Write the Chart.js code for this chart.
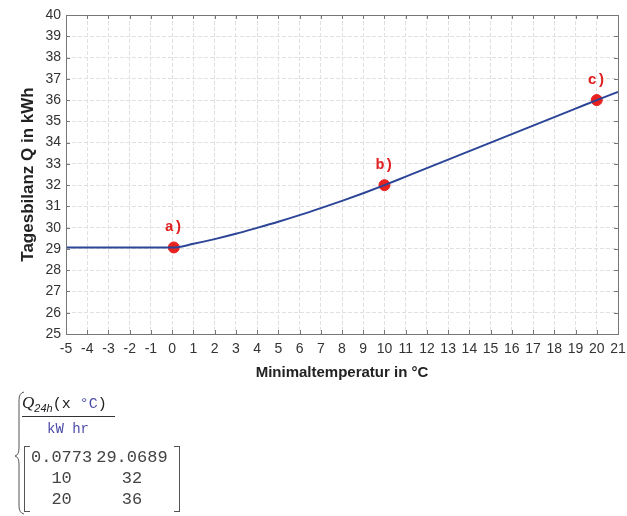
<!DOCTYPE html>
<html>
<head>
<meta charset="utf-8">
<script src="https://cdn.jsdelivr.net/npm/chart.js@4.4.1/dist/chart.umd.min.js"></script>
<style>
    body { margin: 0; background: #fff; }
    #wrap { position: relative; width: 627px; height: 516px; overflow: hidden; }
    #box { position: absolute; left: 0; top: 0; width: 627px; height: 384px; }
    .mono { font-family: 'Liberation Mono', 'Courier New', monospace; }
    #num { position: absolute; left: 22px; top: 393px; color: #222; white-space: nowrap; }
    #num .q { font-family: 'Liberation Serif', serif; font-style: italic; font-size: 17px; }
    #num sub { font-family: 'Liberation Sans', sans-serif; font-style: italic; font-size: 11px; }
    #num .u { color: #4a4aa8; }
    #bar { position: absolute; left: 22px; top: 416px; width: 93px; border-top: 1px solid #333; }
    #den { position: absolute; left: 47px; top: 421px; font-size: 14px; color: #4a4aa8; }
    #mat { position: absolute; left: 24px; top: 446px; width: 154px; height: 66px;
           border-left: 1px solid #555; border-right: 1px solid #555; }
    #mat:before, #mat:after { content: ''; position: absolute; top: 0; bottom: 0; width: 5px;
           border-top: 1px solid #555; border-bottom: 1px solid #555; }
    #mat:before { left: 0; }
    #mat:after { right: 0; }
    #mat table { position: absolute; left: 4px; top: 1px; border-collapse: collapse; font-size: 17px; color: #444; }
    #mat td { text-align: center; padding: 0 2px; height: 21px; line-height: 21px; }
</style>
</head>
<body>
<div id="wrap">
    <div id="box"><canvas id="graph"></canvas></div>
    <svg style="position:absolute;left:0;top:0" width="40" height="516">
        <path d="M24 392 Q19 393 19 400 L19 448 Q19 455 15 456 Q19 457 19 464 L19 506 Q19 513 24 514"
              fill="none" stroke="#555" stroke-width="1"/>
    </svg>
    <div id="num"><span class="q">Q</span><sub>24h</sub><span class="mono" style="font-size:15px">(x <span class="u">°C</span>)</span></div>
    <div id="bar"></div>
    <div id="den" class="mono">kW hr</div>
    <div id="mat"><table class="mono" id="tbl"></table></div>
</div>
<script>
// curve Q24h(T)
const curveX = [-5, -4, -3, -2, -1, 0.0773, 1, 2, 3, 4, 5, 6, 7, 8, 9, 10, 11, 12, 13, 14, 15, 16, 17, 18, 19, 20, 21];
const curveY = [29.0689, 29.0689, 29.0689, 29.0689, 29.0689, 29.0689, 29.24, 29.46, 29.71, 29.99, 30.28, 30.59, 30.92, 31.26, 31.62, 32.0,
    32.4, 32.8, 33.2, 33.6, 34.0, 34.4, 34.8, 35.2, 35.6, 36.0, 36.38];

// marked points
const pointX = [0.0773, 10, 20];
const pointY = [29.0689, 32, 36];
const pointLabels = ['a)', 'b)', 'c)'];

const xMin = -5, xMax = 21;
const yMin = 25, yMax = 40;

Chart.defaults.font.family = "'Liberation Sans', Arial, sans-serif";
Chart.defaults.color = '#333';

const frame = {
    id: 'frame',
    afterDraw(chart) {
        const { ctx, chartArea: a, scales } = chart;
        ctx.save();
        ctx.strokeStyle = '#777';
        ctx.lineWidth = 1;
        ctx.beginPath();
        scales.x.ticks.forEach(t => {
            const x = Math.round(scales.x.getPixelForValue(t.value)) + 0.5;
            ctx.moveTo(x, a.top); ctx.lineTo(x, a.top + 4);
            ctx.moveTo(x, a.bottom); ctx.lineTo(x, a.bottom - 4);
        });
        scales.y.ticks.forEach(t => {
            const y = Math.round(scales.y.getPixelForValue(t.value)) + 0.5;
            ctx.moveTo(a.left, y); ctx.lineTo(a.left + 4, y);
            ctx.moveTo(a.right, y); ctx.lineTo(a.right - 4, y);
        });
        ctx.stroke();
        ctx.strokeRect(Math.round(a.left) + 0.5, Math.round(a.top) + 0.5, Math.round(a.width), Math.round(a.height));
        ctx.restore();
    },
    afterDatasetsDraw(chart) {
        const { ctx } = chart;
        const meta = chart.getDatasetMeta(1);
        ctx.save();
        ctx.fillStyle = '#e02020';
        ctx.font = "bold 15px 'Liberation Mono', 'Courier New', monospace";
        ctx.textAlign = 'center';
        ctx.textBaseline = 'middle';
        meta.data.forEach((p, i) => ctx.fillText(pointLabels[i], p.x, p.y - 20));
        ctx.restore();
    }
};

new Chart('graph', {
    type: 'scatter',
    data: {
        datasets: [{
            data: curveX.map((x, i) => ({ x, y: curveY[i] })),
            showLine: true,
            borderColor: '#2c4596',
            borderWidth: 2,
            pointRadius: 0,
            cubicInterpolationMode: 'monotone',
        }, {
            data: pointX.map((x, i) => ({ x, y: pointY[i] })),
            backgroundColor: '#e8201e',
            borderColor: '#e8201e',
            pointRadius: 5.5,
        }],
    },
    options: {
        responsive: true,
        maintainAspectRatio: false,
        animation: false,
        layout: { padding: { top: 15, right: 9, left: 16, bottom: 0 } },
        plugins: { legend: { display: false }, tooltip: { enabled: false } },
        scales: {
            x: {
                type: 'linear',
                min: xMin,
                max: xMax,
                afterFit: s => { s.height = 50; s.paddingLeft = 0; s.paddingRight = 0; },
                grid: { color: '#e0e0e0', drawTicks: false },
                border: { display: false, dash: [4, 2] },
                ticks: { stepSize: 1, padding: 7, autoSkip: false, maxRotation: 0, minRotation: 0, font: { size: 14 }, color: '#333' },
                title: { display: true, text: 'Minimaltemperatur in °C', color: '#222', font: { size: 15, weight: 'bold' }, padding: 2 },
            },
            y: {
                type: 'linear',
                min: yMin,
                max: yMax,
                afterFit: s => { s.width = 50; },
                grid: { color: '#e0e0e0', drawTicks: false },
                border: { display: false, dash: [4, 2] },
                ticks: { stepSize: 1, padding: 5, font: { size: 14 }, color: '#333' },
                title: { display: true, text: 'Tagesbilanz Q in kWh', color: '#222', font: { size: 17, weight: 'bold' }, padding: 2 },
            },
        },
    },
    plugins: [frame],
});

// result matrix below the plot
const tbl = document.getElementById('tbl');
pointX.forEach((x, i) => {
    const tr = document.createElement('tr');
    [x, pointY[i]].forEach(v => {
        const td = document.createElement('td');
        td.textContent = v;
        tr.appendChild(td);
    });
    tbl.appendChild(tr);
});
</script>
</body>
</html>
